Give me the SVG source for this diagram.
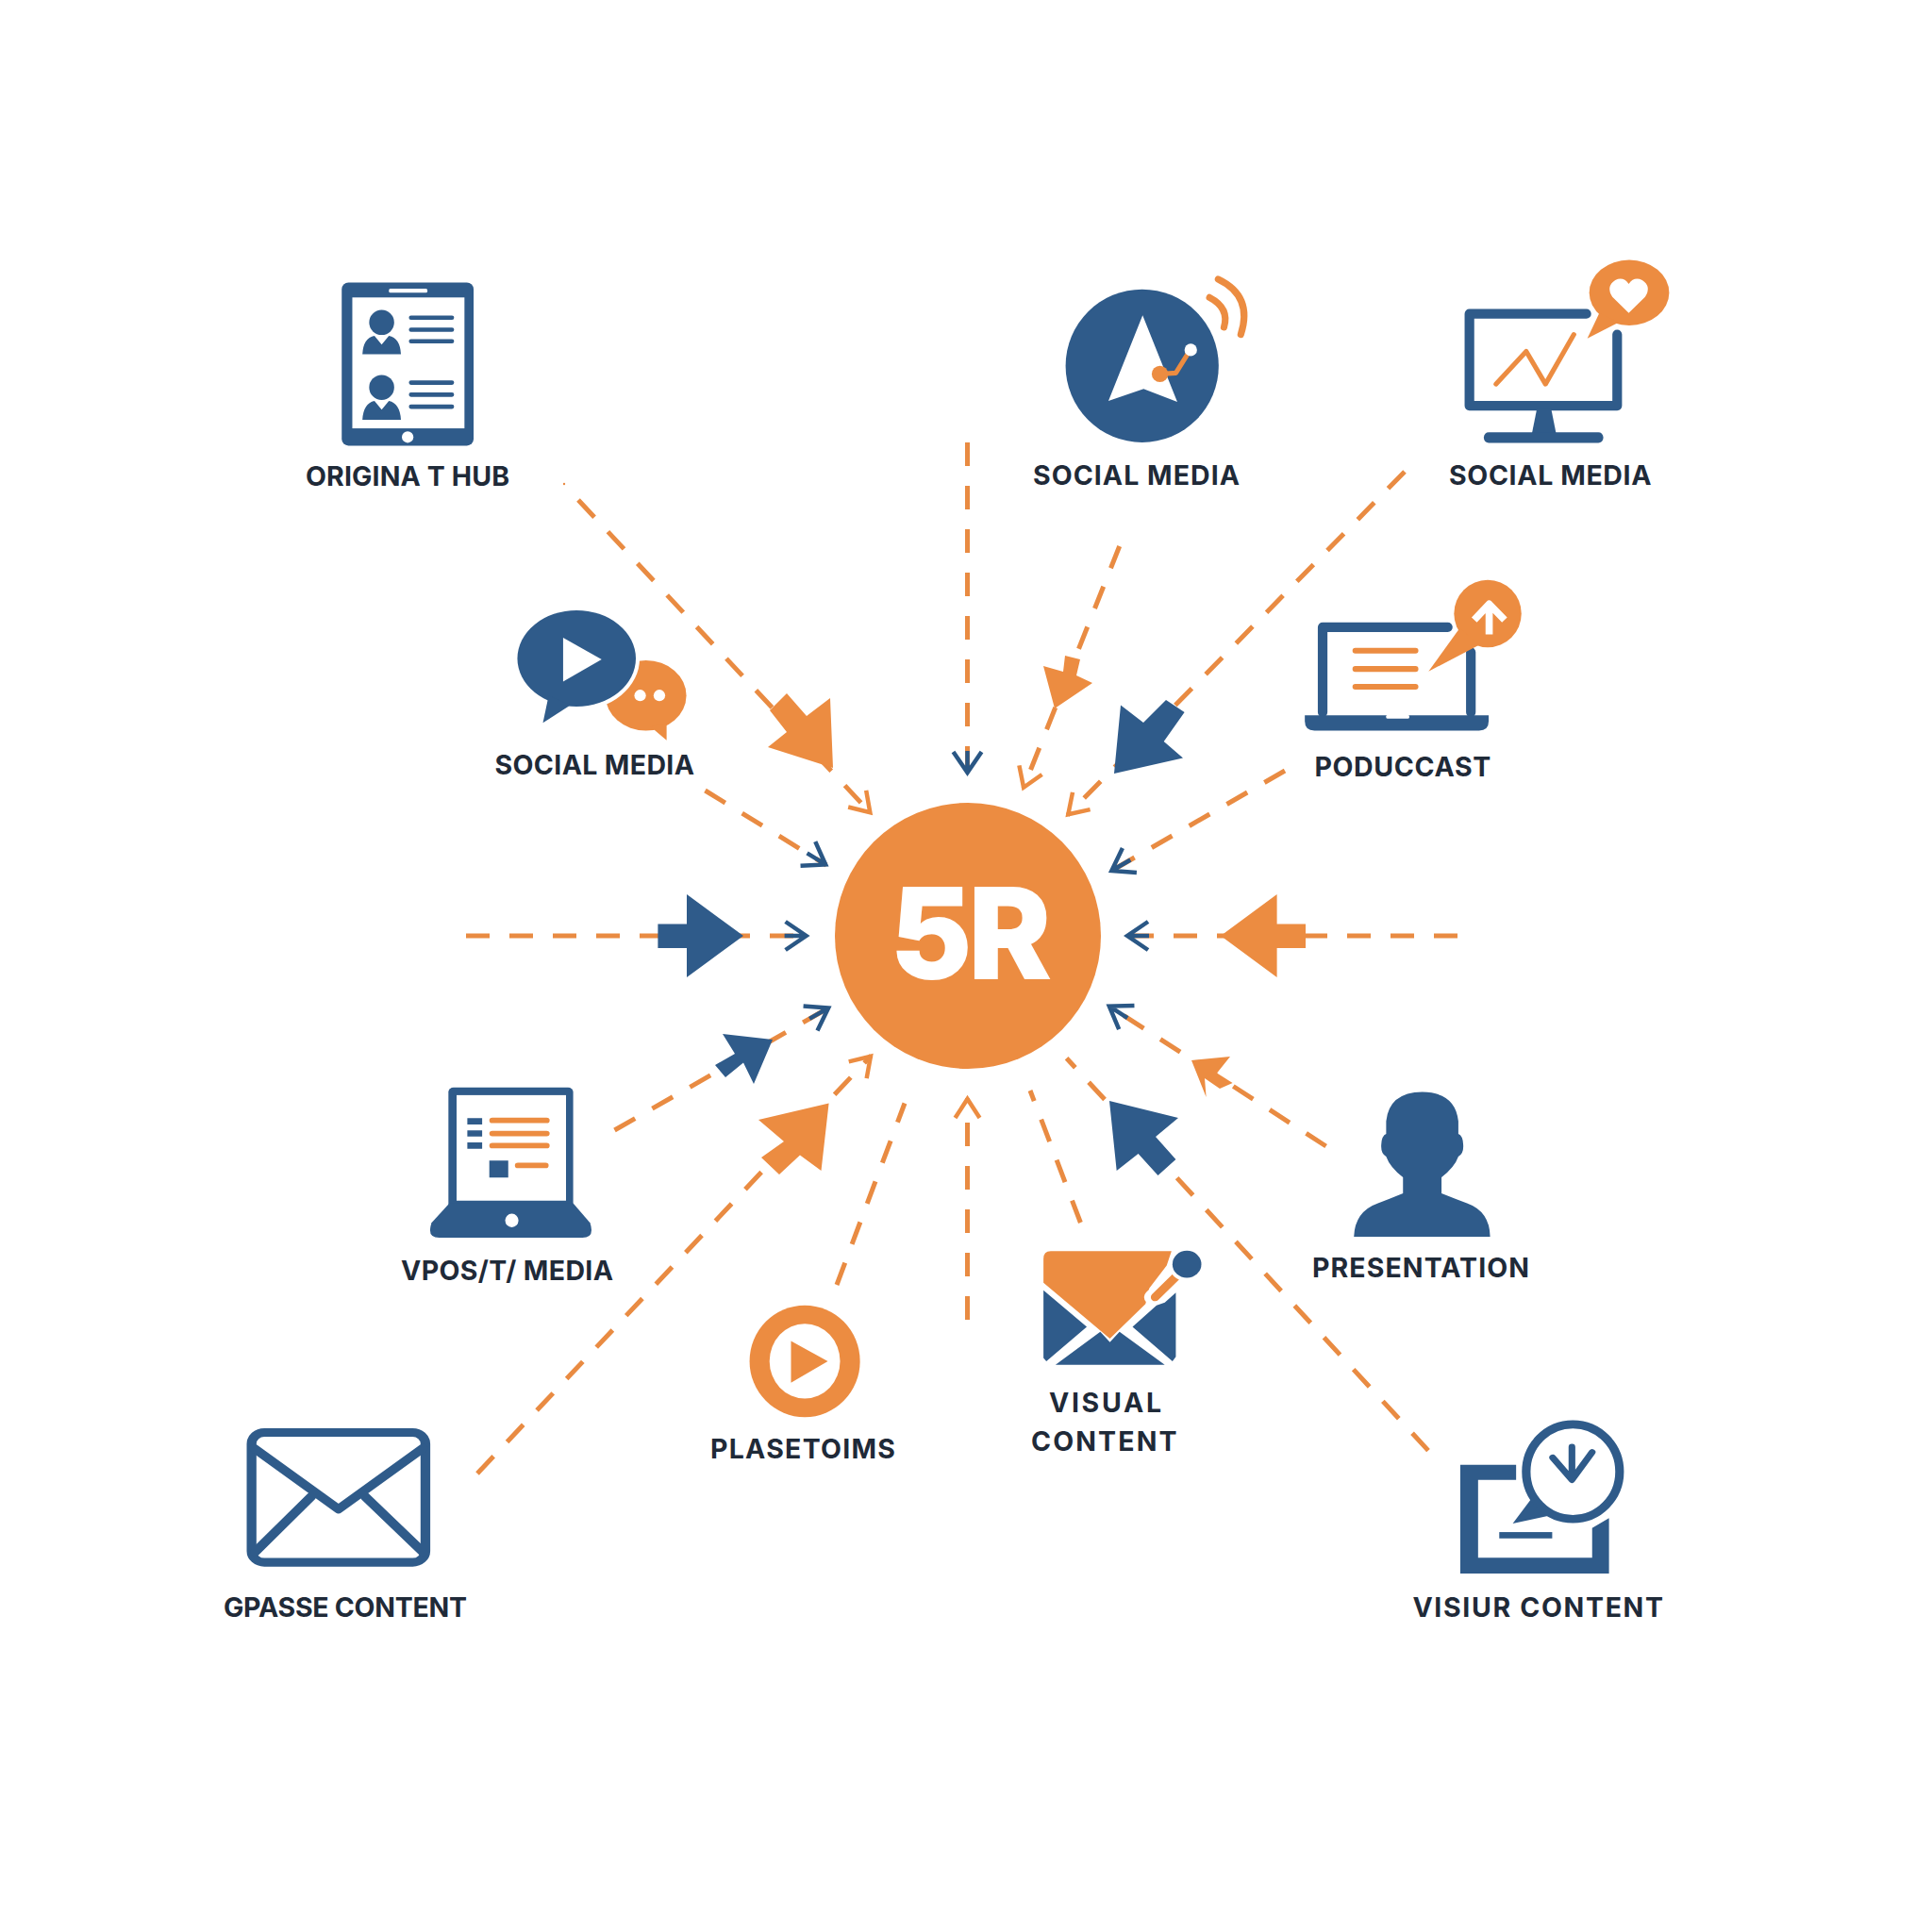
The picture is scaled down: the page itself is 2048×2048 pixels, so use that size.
<svg xmlns="http://www.w3.org/2000/svg" width="2048" height="2048" viewBox="0 0 2048 2048">
<style>
.b{fill:#2f5b8a}.o{fill:#ec8c41}.w{fill:#fff}
.sb{fill:none;stroke:#2f5b8a;stroke-linecap:round;stroke-linejoin:round}
.so{fill:none;stroke:#ec8c41;stroke-linecap:round;stroke-linejoin:round}
.sw{fill:none;stroke:#fff;stroke-linejoin:round}
.d{fill:none;stroke:#e98b42;stroke-width:5;stroke-dasharray:25 21}
.l{font-family:"Inter","Liberation Sans",sans-serif;font-weight:700;font-size:28.500px;fill:#1f2a38}
</style>
<defs>
<marker id="hb" markerUnits="userSpaceOnUse" markerWidth="44" markerHeight="44" refX="38" refY="22" orient="auto"><path d="M15 7L37 22L15 37M14 22H36" fill="none" stroke="#2a5785" stroke-width="4.500"/></marker>
<marker id="ho" markerUnits="userSpaceOnUse" markerWidth="44" markerHeight="44" refX="38" refY="22" orient="auto"><path d="M17 9L37 22L17 35" fill="none" stroke="#ec8c41" stroke-width="4.500"/></marker>
</defs>
<rect width="2048" height="2048" fill="#fff"/>
<g id="connectors">
<circle cx="598" cy="513" r="1.200" fill="#e98b42"/>
<path class="d" d="M613 530L923 862" marker-end="url(#ho)"/>
<path class="d" d="M1025.500 469V820" marker-end="url(#hb)"/>
<path class="d" d="M747.500 838L876 917" marker-end="url(#hb)"/>
<path class="d" d="M494 992H855.600" marker-end="url(#hb)"/>
<path class="d" d="M1186.700 579L1084.700 835.700" marker-end="url(#ho)"/>
<path class="d" d="M1489 500L1131.600 864" marker-end="url(#ho)"/>
<path class="d" d="M1362 817L1177.500 923.500" marker-end="url(#hb)"/>
<path class="d" d="M1545 992H1194" marker-end="url(#hb)"/>
<path class="d" d="M651.500 1198L879 1068" marker-end="url(#hb)"/>
<path class="d" d="M506 1562L923.600 1119" marker-end="url(#ho)"/>
<path class="d" d="M887 1362L959 1169.500"/>
<path class="d" d="M1025.500 1399V1164" marker-end="url(#ho)"/>
<path class="d" d="M1145.400 1296L1092 1156"/>
<path class="d" d="M1514 1537.600L1130.600 1121.700"/>
<path class="d" d="M1405.600 1215L1175 1066" marker-end="url(#hb)"/>
<path class="o" d="M883 814L880 740L855 759L834 735L816 753L834 776L814 792Z"/>
<path class="b" d="M697.400 979.600H728V948L788 992L728 1036V1005H697.400Z"/>
<path class="o" d="M1118 751L1106 706L1127 712L1129 695L1145 699L1141 716L1158 724Z"/>
<path class="b" d="M1181 820L1188 747.500L1212 766L1236 742L1255.600 755L1233.700 786L1254 803.600Z"/>
<path class="o" d="M1294 992L1353.600 948V979.600H1384V1005H1353.600V1036Z"/>
<path class="b" d="M819 1102L766 1096L779 1117L758 1129L769 1142L788 1126.500L799 1149Z"/>
<path class="o" d="M878.600 1169.500L804 1187L831 1210L807 1227L826 1245L848 1224.500L870.500 1241Z"/>
<path class="b" d="M1176 1167L1249 1185L1225 1205L1246.400 1229L1227.500 1246L1206.600 1223L1183.700 1241Z"/>
<path class="o" d="M1263 1124L1304 1120L1290 1137.500L1306.600 1148L1293 1154L1277 1143L1278.600 1163Z"/>
</g>
<g id="hub">
<circle class="o" cx="1026" cy="992" r="141"/>
<text x="944" y="1037" font-family="Inter,'Liberation Sans',sans-serif" font-weight="800" font-size="132" fill="#fff" stroke="#fff" stroke-width="2" textLength="170">5R</text>
</g>
<g id="node-original">
<g transform="translate(250 250) scale(.5102)">
<rect class="b" x="220" y="97" width="274" height="339" rx="14"/>
<rect class="w" x="242" y="128" width="233" height="272"/>
<rect class="w" x="318" y="110" width="80" height="8" rx="3"/>
<circle class="w" cx="357" cy="418" r="12"/>
<circle class="b" cx="303" cy="180" r="26"/>
<path class="b" d="M263 246Q265 212 288 208L303 226L318 208Q341 212 343 246Z"/>
<circle class="b" cx="303" cy="315" r="26"/>
<path class="b" d="M263 382Q265 348 288 343L303 361L318 343Q341 348 343 382Z"/>
<path class="sb" stroke-width="9" d="M364 170H449M364 195H449M364 219H449M364 305H449M364 330H449M364 355H449"/>
</g>
<text class="l" x="324" y="515" textLength="216">ORIGINA T HUB</text>
</g>
<g id="node-social-chat">
<g transform="translate(250 250) scale(.5102)">
<ellipse class="o" cx="852" cy="955" rx="84" ry="73"/>
<path class="o" d="M895 1048L862 1020L895 1012Z"/>
<circle class="w" cx="840" cy="955" r="12"/><circle class="w" cx="880" cy="955" r="12"/>
<ellipse cx="708" cy="878" rx="131" ry="108" fill="#fff"/>
<ellipse class="b" cx="708" cy="878" rx="123" ry="100"/>
<path class="b" d="M638 1012L650 955L695 975Z"/>
<path class="w" d="M680 835L760 880L680 926Z"/>
</g>
<text class="l" x="524.500" y="821" textLength="211.500">SOCIAL MEDIA</text>
</g>
<g id="node-social-nav">
<g transform="translate(1050 250) scale(.5102)">
<circle class="b" cx="315" cy="270" r="159"/>
<path class="w" d="M316 165L388 345L318 318L245 343Z"/>
<path class="so" stroke-width="10" d="M352 287L385 285L415 237"/>
<circle class="o" cx="352" cy="287" r="17"/>
<circle class="w" cx="416" cy="237" r="13"/>
<path class="so" stroke-width="14" d="M455 128Q497 150 485 190M473 90Q546 125 520 205"/>
</g>
<text class="l" x="1095" y="514" textLength="219">SOCIAL MEDIA</text>
</g>
<g id="node-social-monitor">
<g transform="translate(1050 250) scale(.5102)">
<path class="sb" stroke-width="20" d="M1238 162H995V353H1302V205"/>
<path class="b" d="M1135 360H1165L1175 410H1125Z"/>
<rect class="b" x="1025" y="408" width="248" height="22" rx="10"/>
<path class="so" stroke-width="10" d="M1050 308L1113 240L1153 308L1212 205"/>
<ellipse class="o" cx="1327" cy="118" rx="83" ry="68"/>
<path class="o" d="M1240 213L1265 160L1305 180Z"/>
<path class="w" d="M1326 160L1292 127Q1278 105 1298 92Q1315 84 1326 100Q1337 84 1354 92Q1374 105 1360 127Z"/>
</g>
<text class="l" x="1536" y="514" textLength="214.500">SOCIAL MEDIA</text>
</g>
<g id="node-podcast">
<g transform="translate(1050 250) scale(.5102)">
<path class="sb" stroke-width="20" d="M950 813H690V990M998 990V865"/>
<path class="b" d="M653 996H1035V1008Q1035 1028 1015 1028H673Q653 1028 653 1008Z"/>
<rect class="w" x="822" y="995" width="48" height="8" rx="3"/>
<path class="so" stroke-width="12" d="M758 862H883M758 900H883M758 937H883"/>
<circle class="o" cx="1033" cy="785" r="70"/>
<path class="o" d="M910 905L975 815L1015 850Z"/>
<path class="sw" stroke-width="15" d="M1036 828V770M1005 798L1036 765L1068 798"/>
</g>
<text class="l" x="1393.400" y="823" textLength="187">PODUCCAST</text>
</g>
<g id="node-vpost">
<g transform="translate(200 1050) scale(.542 .478)">
<rect class="b" x="508" y="215" width="244" height="270" rx="10"/>
<rect class="w" x="524" y="232" width="214" height="234"/>
<path class="b" d="M510 472H752L785 515Q795 548 770 548H490Q465 548 475 515Z"/>
<ellipse class="w" cx="632" cy="510" rx="13" ry="15"/>
<path class="b" d="M545 283H574V297H545ZM545 310H574V324H545ZM545 337H574V351H545ZM588 377H625V415H588Z"/>
<path class="so" stroke-width="12" d="M594 288H700M594 317H700M594 344H700M644 388H698"/>
</g>
<text class="l" x="425" y="1357" textLength="225">VPOS/T/ MEDIA</text>
</g>
<g id="node-grasse">
<g transform="translate(200 1050) scale(.542 .478)">
<rect class="sb" stroke-width="19" x="123" y="980" width="340" height="288" rx="25"/>
<path class="sb" stroke-width="19" d="M128 1015L293 1150L458 1015M240 1122L130 1245M345 1122L458 1245"/>
</g>
<text class="l" x="237" y="1713.500" textLength="258">GPASSE CONTENT</text>
</g>
<g id="node-play">
<g transform="translate(200 1050) scale(.542 .478)">
<ellipse class="o" cx="1205" cy="822" rx="108" ry="124"/>
<ellipse class="w" cx="1205" cy="822" rx="69" ry="83"/>
<path class="o" d="M1178 777L1250 822L1178 870Z"/>
</g>
<text class="l" x="753" y="1545.700" textLength="196">PLASETOIMS</text>
</g>
<g id="node-visual">
<g transform="translate(1050 1050) scale(.5102 .478)">
<path class="o" d="M110 595Q110 578 125 578H376L366 610L330 660L322 695L248 772L110 648Z"/>
<path class="b" d="M110 665L200 746L116 822L110 815ZM385 670V812L378 822L295 746L345 698L362 692ZM135 830L228 757L248 780L268 757L362 830Z"/>
<path d="M390 625L335 680" stroke="#fff" stroke-width="32" stroke-linecap="round" fill="none"/>
<path class="so" stroke-width="18" d="M385 635L342 680"/>
<circle cx="408" cy="607" r="38" fill="#fff"/>
<circle class="b" cx="408" cy="607" r="30"/>
</g>
<text class="l" x="1112" y="1497" textLength="119">VISUAL</text>
<text class="l" x="1093" y="1537.600" textLength="154.500">CONTENT</text>
</g>
<g id="node-presentation">
<g transform="translate(1050 1050) scale(.5102 .478)">
<path class="b" d="M755 546Q757 490 805 472L857 450V414Q830 392 822 368Q810 362 812 340Q813 322 822 318V290Q828 226 897 225Q966 226 972 290V318Q981 322 982 340Q984 362 972 368Q964 392 937 414V450L990 472Q1037 490 1038 546Z"/>
</g>
<text class="l" x="1391" y="1353.500" textLength="230">PRESENTATION</text>
</g>
<g id="node-visiur">
<g transform="translate(1050 1050) scale(.5102 .478)">
<path class="b" d="M976 1052H1092V1085H1013V1258H1250V1192L1285 1170V1293H976Z"/>
<rect class="b" x="1057" y="1201" width="110" height="14"/>
<path class="b" d="M1085 1182L1125 1125L1160 1165Z"/>
<ellipse cx="1210" cy="1067" rx="97" ry="105" fill="#fff" stroke="#2f5b8a" stroke-width="18"/>
<path class="sb" stroke-width="14" d="M1208 1012V1082M1168 1036L1208 1085L1250 1024"/>
</g>
<text class="l" x="1497.400" y="1714" textLength="265.600">VISIUR CONTENT</text>
</g>
</svg>
